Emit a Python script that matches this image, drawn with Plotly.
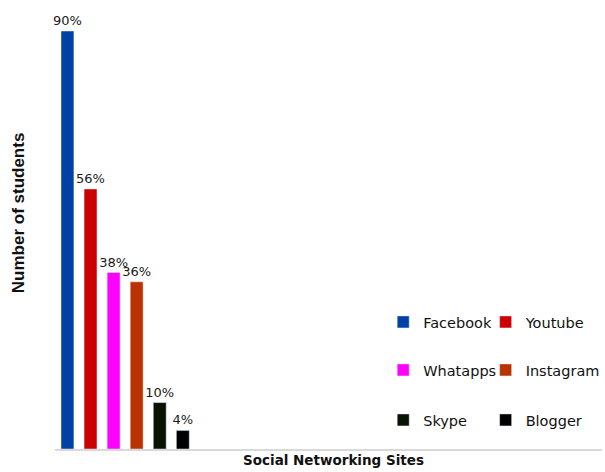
import plotly.graph_objects as go

sites = ["Facebook", "Youtube", "Whatapps", "Instagram", "Skype", "Blogger"]
percent = [90, 56, 38, 36, 10, 4]
colors = ["#0041a6", "#cc0000", "#ff00ff", "#b83300", "#0a1200", "#000000"]
legend_ids = ["legend", "legend2", "legend3", "legend4", "legend5", "legend6"]

fig = go.Figure()
for i, (name, val, col, lg) in enumerate(zip(sites, percent, colors, legend_ids)):
    fig.add_trace(go.Bar(
        x=[i], y=[val], name=name, marker_color=col, width=0.56,
        text=[f"{val}%"], textposition="outside", cliponaxis=False,
        constraintext="none",
        textfont=dict(family="DejaVu Sans", size=13, color="#1a1a1a"),
        legend=lg,
    ))

L = 55
T = 5
B = 23
W = 605
H = 472
pw = W - L
ph = H - T - B

def py(pix):
    return (H - B - pix) / ph

def px(pix):
    return (pix - L) / pw

leg_common = dict(orientation="v", xanchor="left", yanchor="middle",
                  font=dict(family="DejaVu Sans", size=14.5, color="#111111"),
                  bgcolor="rgba(0,0,0,0)")

# text start x (px) and row center y (px) for each legend entry
text_x = [425, 528, 425, 528, 425, 528]
row_y = [322, 322, 370, 370, 420, 420]

legends = {}
for lg, tx, ry in zip(legend_ids, text_x, row_y):
    legends[lg] = dict(x=px(tx - 40), y=py(ry), **leg_common)

fig.update_layout(
    width=W, height=H,
    margin=dict(l=L, r=0, t=T, b=B),
    plot_bgcolor="white", paper_bgcolor="white",
    barmode="overlay",
    showlegend=True,
    xaxis=dict(range=[-0.54, 23.17], showticklabels=False, ticks="",
               showgrid=False, zeroline=False, showline=True,
               linecolor="#d9d9d9", linewidth=2, fixedrange=True),
    yaxis=dict(range=[0, ph / 4.644], showticklabels=False, ticks="",
               showgrid=False, zeroline=False, showline=False, fixedrange=True),
    annotations=[
        dict(text="<b>Social Networking Sites</b>", xref="paper", yref="paper",
             x=px(335), y=py(460), xanchor="center", yanchor="middle",
             showarrow=False,
             font=dict(family="DejaVu Sans", size=13.5, color="#111111")),
        dict(text="<b>Number of students</b>", xref="paper", yref="paper",
             x=px(18), y=py(213), xanchor="center", yanchor="middle",
             textangle=-90, showarrow=False,
             font=dict(family="Liberation Sans", size=17, color="#111111")),
    ],
    **legends,
)

fig.write_html("out.html")
